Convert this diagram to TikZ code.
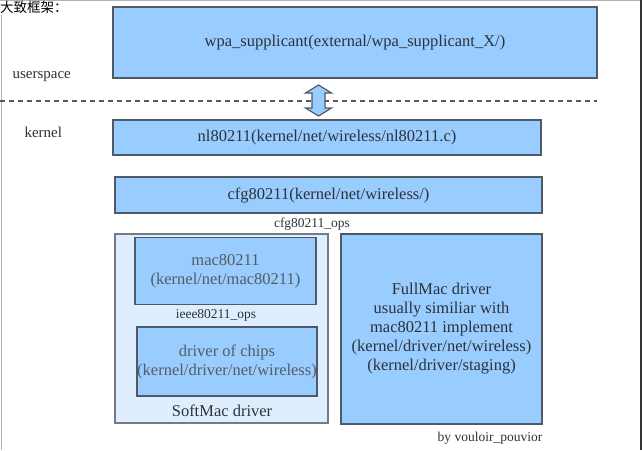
\documentclass[tikz,border=0pt]{standalone}
\usepackage{fontspec}
\setmainfont{Liberation Serif}
\newfontfamily\cjk{Noto Sans CJK SC}
\usetikzlibrary{positioning}

\definecolor{boxblue}{RGB}{153,204,255}
\definecolor{paleblue}{RGB}{222,238,255}
\definecolor{boxline}{RGB}{80,90,102}
\definecolor{boxtext}{RGB}{45,50,58}

\tikzset{
  layerbox/.style={draw=boxline, line width=1.2pt, fill=boxblue, text=boxtext,
    inner sep=0pt, align=center, font=\fontsize{16.5}{19}\selectfont},
  groupbox/.style={draw=boxline!80, line width=1.2pt, fill=paleblue, inner sep=0pt},
  opslabel/.style={text=boxtext, font=\fontsize{13.5}{15}\selectfont},
  sidelabel/.style={text=boxtext, anchor=west, font=\fontsize{15}{17}\selectfont}
}

\begin{document}
\begin{tikzpicture}[x=1pt, y=-1pt]
            \useasboundingbox (0,0) rectangle (642,450);
            % frame
            \draw[gray!60, line width=1pt] (1,15) -- (1,450);
            \draw[gray!60, line width=1pt] (0,0.5) -- (642,0.5);
            \draw[black!80, line width=1.2pt] (641,0) -- (641,450);
            \node[anchor=north west, inner sep=0pt] (title) at (0,1) {\cjk\fontsize{13.5}{15}\selectfont 大致框架：};

            % userspace / kernel split
            \draw[black!65, line width=1.2pt, dash pattern=on 5pt off 4pt] (0,101) -- (597,101);
            \node[sidelabel] (user) at (9,77) {userspace};
            \node[sidelabel] (kern) at (21,132) {kernel};

            % layers
            \node[layerbox, minimum width=484, minimum height=71] (wpa) at (355,42.5) {wpa\_supplicant(external/wpa\_supplicant\_X/)};
            \node[layerbox, minimum width=428, minimum height=35] (nl) at (327,137.5) {nl80211(kernel/net/wireless/nl80211.c)};
            \node[layerbox, minimum width=427, minimum height=36] (cfg) at (328.5,195) {cfg80211(kernel/net/wireless/)};

            % arrow between userspace and kernel
            \coordinate (link) at (318.5,100.5);
            \draw[boxline, line width=1.2pt, fill=boxblue]
              ([yshift=-15.5]link) -- ([xshift=13,yshift=-7.5]link) -- ([xshift=6.5,yshift=-7.5]link)
              -- ([xshift=6.5,yshift=7.5]link) -- ([xshift=13,yshift=7.5]link) -- ([yshift=15.5]link)
              -- ([xshift=-13,yshift=7.5]link) -- ([xshift=-6.5,yshift=7.5]link)
              -- ([xshift=-6.5,yshift=-7.5]link) -- ([xshift=-13,yshift=-7.5]link) -- cycle;

            \node[opslabel] (cfgops) at (312,224) {cfg80211\_ops};

            % softmac side
            \node[groupbox, minimum width=213, minimum height=189] (soft) at (221.5,328.5) {};
            \node[layerbox, minimum width=181, minimum height=67, text=boxtext!80] (mac) at (225.5,271) {mac80211\\(kernel/net/mac80211)};
            \node[opslabel] (ieeeops) at (216,315) {ieee80211\_ops};
            \node[layerbox, minimum width=180, minimum height=69, text=boxtext!80] (chips) at (227,361.5) {driver of chips\\(kernel/driver/net/wireless)};
            \node[text=boxtext, font=\fontsize{16.5}{19}\selectfont] (softname) at (222,411) {SoftMac driver};

            % fullmac side
            \node[layerbox, minimum width=201, minimum height=190] (full) at (441.5,329)
              {FullMac driver\\usually similiar with\\mac80211 implement\\(kernel/driver/net/wireless)\\(kernel/driver/staging)};

            \node[opslabel] (author) at (490,438) {by vouloir\_pouvior};
\end{tikzpicture}
\end{document}
